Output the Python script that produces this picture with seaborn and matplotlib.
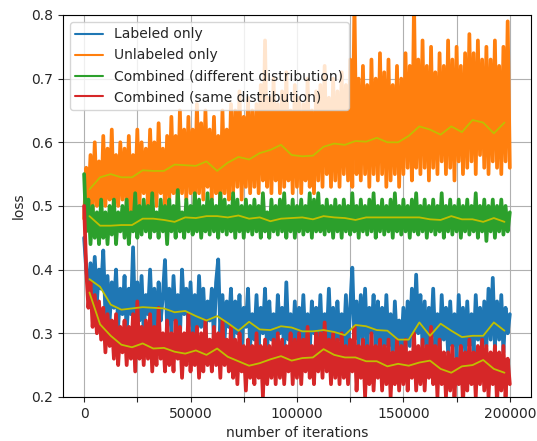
import numpy as np
import matplotlib
matplotlib.use("Agg")
import matplotlib.pyplot as plt
from matplotlib.ticker import MultipleLocator
import seaborn as sns

################################################################################################
# data (raw loss every 1000 iterations, smoothed every 5000)

iters = np.arange(0, 200001, 1000)
smooth_iters = np.arange(2500, 200000, 5000)

labeled_only = [
    0.45, 0.40, 0.37, 0.41, 0.36, 0.42, 0.35, 0.40, 0.37, 0.43,
    0.33, 0.39, 0.32, 0.38, 0.34, 0.40, 0.31, 0.37, 0.33, 0.39,
    0.30, 0.37, 0.33, 0.435, 0.31, 0.38, 0.32, 0.39, 0.30, 0.36,
    0.33, 0.40, 0.31, 0.37, 0.30, 0.38, 0.32, 0.36, 0.415, 0.31,
    0.37, 0.30, 0.39, 0.32, 0.36, 0.29, 0.40, 0.33, 0.37, 0.31,
    0.38, 0.30, 0.36, 0.29, 0.39, 0.31, 0.37, 0.30, 0.35, 0.32,
    0.37, 0.29, 0.38, 0.416, 0.30, 0.36, 0.29, 0.35, 0.31, 0.37,
    0.28, 0.35, 0.30, 0.36, 0.27, 0.34, 0.31, 0.37, 0.28, 0.33,
    0.29, 0.36, 0.28, 0.34, 0.30, 0.37, 0.27, 0.35, 0.29, 0.33,
    0.28, 0.36, 0.30, 0.34, 0.27, 0.38, 0.29, 0.33, 0.28, 0.35,
    0.27, 0.34, 0.29, 0.36, 0.28, 0.33, 0.27, 0.35, 0.30, 0.34,
    0.28, 0.36, 0.27, 0.33, 0.29, 0.37, 0.28, 0.34, 0.27, 0.35,
    0.29, 0.33, 0.28, 0.36, 0.27, 0.34, 0.403, 0.29, 0.35, 0.28,
    0.36, 0.29, 0.37, 0.28, 0.34, 0.30, 0.36, 0.27, 0.35, 0.29,
    0.34, 0.27, 0.36, 0.28, 0.33, 0.26, 0.35, 0.28, 0.32, 0.27,
    0.34, 0.27, 0.35, 0.28, 0.37, 0.29, 0.392, 0.30, 0.36, 0.28,
    0.35, 0.27, 0.34, 0.29, 0.37, 0.28, 0.33, 0.27, 0.36, 0.29,
    0.34, 0.27, 0.35, 0.28, 0.33, 0.26, 0.36, 0.28, 0.34, 0.27,
    0.35, 0.28, 0.33, 0.27, 0.36, 0.29, 0.34, 0.27, 0.35, 0.28,
    0.37, 0.29, 0.387, 0.28, 0.35, 0.29, 0.36, 0.27, 0.34, 0.30,
    0.33,
]

unlabeled_only = [
    0.48, 0.56, 0.50, 0.58, 0.49, 0.60, 0.50, 0.57, 0.49, 0.61,
    0.50, 0.59, 0.51, 0.62, 0.49, 0.58, 0.50, 0.60, 0.51, 0.59,
    0.50, 0.61, 0.49, 0.58, 0.51, 0.62, 0.50, 0.60, 0.52, 0.59,
    0.50, 0.62, 0.51, 0.60, 0.50, 0.63, 0.52, 0.59, 0.50, 0.61,
    0.51, 0.64, 0.52, 0.61, 0.50, 0.65, 0.52, 0.62, 0.51, 0.64,
    0.52, 0.62, 0.50, 0.66, 0.52, 0.63, 0.51, 0.65, 0.53, 0.62,
    0.51, 0.64, 0.52, 0.61, 0.50, 0.65, 0.52, 0.62, 0.51, 0.66,
    0.52, 0.65, 0.53, 0.68, 0.51, 0.64, 0.53, 0.67, 0.52, 0.65,
    0.53, 0.66, 0.52, 0.69, 0.54, 0.76, 0.53, 0.67, 0.52, 0.70,
    0.54, 0.66, 0.52, 0.68, 0.53, 0.71, 0.54, 0.65, 0.52, 0.69,
    0.53, 0.67, 0.52, 0.66, 0.54, 0.70, 0.53, 0.65, 0.52, 0.68,
    0.54, 0.69, 0.53, 0.72, 0.55, 0.67, 0.53, 0.70, 0.54, 0.68,
    0.53, 0.71, 0.55, 0.69, 0.54, 0.73, 0.53, 0.82, 0.55, 0.70,
    0.54, 0.72, 0.55, 0.69, 0.53, 0.73, 0.55, 0.70, 0.54, 0.74,
    0.55, 0.71, 0.53, 0.73, 0.54, 0.69, 0.55, 0.72, 0.53, 0.70,
    0.55, 0.74, 0.56, 0.72, 0.54, 0.82, 0.56, 0.73, 0.55, 0.76,
    0.56, 0.72, 0.54, 0.75, 0.56, 0.71, 0.55, 0.74, 0.57, 0.72,
    0.55, 0.76, 0.56, 0.73, 0.54, 0.75, 0.57, 0.72, 0.55, 0.74,
    0.56, 0.77, 0.57, 0.74, 0.55, 0.76, 0.58, 0.73, 0.56, 0.75,
    0.55, 0.73, 0.57, 0.76, 0.56, 0.72, 0.55, 0.75, 0.57, 0.79,
    0.56,
]

combined_diff = [
    0.55, 0.46, 0.51, 0.44, 0.50, 0.45, 0.49, 0.44, 0.51, 0.45,
    0.49, 0.44, 0.50, 0.455, 0.51, 0.44, 0.49, 0.46, 0.50, 0.45,
    0.51, 0.44, 0.49, 0.46, 0.52, 0.45, 0.50, 0.455, 0.51, 0.46,
    0.50, 0.45, 0.52, 0.46, 0.49, 0.45, 0.51, 0.46, 0.50, 0.44,
    0.51, 0.46, 0.50, 0.45, 0.525, 0.46, 0.49, 0.45, 0.51, 0.46,
    0.50, 0.455, 0.52, 0.46, 0.51, 0.45, 0.50, 0.46, 0.52, 0.455,
    0.51, 0.46, 0.50, 0.45, 0.52, 0.46, 0.51, 0.455, 0.50, 0.46,
    0.52, 0.45, 0.51, 0.46, 0.50, 0.45, 0.51, 0.46, 0.50, 0.455,
    0.51, 0.46, 0.50, 0.45, 0.52, 0.46, 0.49, 0.45, 0.51, 0.46,
    0.50, 0.455, 0.51, 0.46, 0.52, 0.45, 0.50, 0.46, 0.51, 0.45,
    0.50, 0.46, 0.51, 0.455, 0.50, 0.46, 0.52, 0.45, 0.51, 0.46,
    0.52, 0.46, 0.50, 0.455, 0.51, 0.46, 0.50, 0.45, 0.51, 0.46,
    0.50, 0.45, 0.51, 0.46, 0.50, 0.455, 0.52, 0.46, 0.50, 0.45,
    0.51, 0.46, 0.50, 0.455, 0.51, 0.46, 0.52, 0.45, 0.50, 0.46,
    0.51, 0.455, 0.50, 0.46, 0.51, 0.45, 0.52, 0.46, 0.50, 0.455,
    0.51, 0.46, 0.50, 0.45, 0.51, 0.46, 0.52, 0.455, 0.50, 0.46,
    0.51, 0.45, 0.50, 0.46, 0.51, 0.455, 0.50, 0.46, 0.52, 0.45,
    0.50, 0.46, 0.51, 0.455, 0.50, 0.46, 0.51, 0.45, 0.50, 0.46,
    0.51, 0.455, 0.50, 0.46, 0.52, 0.45, 0.50, 0.46, 0.51, 0.445,
    0.50, 0.46, 0.51, 0.45, 0.50, 0.46, 0.51, 0.455, 0.50, 0.46,
    0.49,
]

combined_same = [
    0.50, 0.40, 0.34, 0.38, 0.31, 0.36, 0.30, 0.35, 0.29, 0.34,
    0.27, 0.33, 0.28, 0.32, 0.26, 0.33, 0.25, 0.31, 0.27, 0.32,
    0.25, 0.31, 0.26, 0.33, 0.24, 0.35, 0.26, 0.31, 0.25, 0.32,
    0.26, 0.33, 0.24, 0.31, 0.25, 0.34, 0.26, 0.30, 0.24, 0.32,
    0.25, 0.30, 0.24, 0.32, 0.26, 0.31, 0.23, 0.30, 0.25, 0.33,
    0.24, 0.30, 0.25, 0.31, 0.23, 0.30, 0.24, 0.32, 0.25, 0.29,
    0.24, 0.31, 0.25, 0.30, 0.23, 0.32, 0.25, 0.29, 0.24, 0.31,
    0.23, 0.29, 0.22, 0.30, 0.24, 0.28, 0.21, 0.29, 0.23, 0.28,
    0.22, 0.30, 0.23, 0.28, 0.20, 0.29, 0.22, 0.28, 0.23, 0.29,
    0.22, 0.30, 0.23, 0.29, 0.22, 0.28, 0.24, 0.30, 0.22, 0.29,
    0.23, 0.30, 0.22, 0.29, 0.24, 0.31, 0.23, 0.28, 0.22, 0.30,
    0.24, 0.30, 0.23, 0.317, 0.24, 0.29, 0.22, 0.30, 0.23, 0.29,
    0.22, 0.30, 0.23, 0.28, 0.22, 0.29, 0.24, 0.31, 0.21, 0.28,
    0.23, 0.29, 0.20, 0.28, 0.22, 0.30, 0.21, 0.28, 0.23, 0.29,
    0.21, 0.28, 0.22, 0.29, 0.20, 0.27, 0.22, 0.29, 0.21, 0.28,
    0.22, 0.29, 0.21, 0.27, 0.23, 0.30, 0.21, 0.28, 0.22, 0.29,
    0.21, 0.28, 0.23, 0.31, 0.22, 0.28, 0.20, 0.29, 0.22, 0.27,
    0.20, 0.27, 0.21, 0.28, 0.20, 0.26, 0.22, 0.28, 0.19, 0.27,
    0.21, 0.29, 0.22, 0.27, 0.20, 0.28, 0.22, 0.29, 0.21, 0.28,
    0.20, 0.27, 0.22, 0.28, 0.19, 0.27, 0.21, 0.28, 0.20, 0.26,
    0.22,
]

# smoothed curves (yellow)
labeled_smooth = [
    0.385, 0.373, 0.345, 0.337, 0.339, 0.341, 0.340, 0.339, 0.333, 0.335,
    0.327, 0.320, 0.327, 0.316, 0.304, 0.318, 0.306, 0.305, 0.311, 0.309,
    0.303, 0.303, 0.305, 0.302, 0.297, 0.313, 0.311, 0.305, 0.304, 0.290,
    0.290, 0.317, 0.296, 0.315, 0.304, 0.294, 0.296, 0.296, 0.317, 0.304,
]
unlabeled_smooth = [
    0.526, 0.545, 0.550, 0.545, 0.545, 0.556, 0.555, 0.555, 0.565, 0.564,
    0.563, 0.570, 0.555, 0.568, 0.577, 0.573, 0.583, 0.588, 0.596, 0.580,
    0.578, 0.579, 0.593, 0.598, 0.596, 0.602, 0.601, 0.607, 0.600, 0.600,
    0.610, 0.625, 0.620, 0.612, 0.625, 0.616, 0.635, 0.631, 0.614, 0.631,
]
combined_diff_smooth = [
    0.484, 0.469, 0.469, 0.470, 0.470, 0.480, 0.480, 0.478, 0.475, 0.482,
    0.481, 0.484, 0.484, 0.482, 0.485, 0.480, 0.482, 0.476, 0.480, 0.481,
    0.482, 0.479, 0.484, 0.482, 0.481, 0.478, 0.482, 0.482, 0.482, 0.482,
    0.482, 0.482, 0.479, 0.478, 0.484, 0.479, 0.479, 0.475, 0.481, 0.475,
]
combined_same_smooth = [
    0.364, 0.314, 0.296, 0.282, 0.278, 0.284, 0.276, 0.277, 0.271, 0.268,
    0.273, 0.266, 0.276, 0.263, 0.256, 0.249, 0.253, 0.259, 0.264, 0.257,
    0.261, 0.262, 0.275, 0.266, 0.262, 0.262, 0.256, 0.256, 0.248, 0.252,
    0.249, 0.254, 0.257, 0.244, 0.238, 0.248, 0.250, 0.258, 0.244, 0.238,
]

labels = ['Labeled only', 'Unlabeled only',
          'Combined (different distribution)', 'Combined (same distribution)']
colors = ['tab:blue', 'tab:orange', 'tab:green', 'tab:red']

################################################################################################

sns.set_style("ticks", {"axes.grid": True, "grid.color": "#b0b0b0",
                        "axes.edgecolor": "black"})
plt.rcParams['font.family'] = ['DejaVu Sans']

fig, ax = plt.subplots(figsize=(5.37, 4.41), dpi=100)
fig.subplots_adjust(left=0.117, right=0.989, top=0.966, bottom=0.1)

raw = [labeled_only, unlabeled_only, combined_diff, combined_same]
smooth = [labeled_smooth, unlabeled_smooth, combined_diff_smooth, combined_same_smooth]

# noisy curves first (thick line so the dense noise reads as a band)
for y, lab, c in zip(raw, labels, colors):
    sns.lineplot(x=iters, y=y, ax=ax, color=c, lw=2.7, label=lab, estimator=None)

# smoothed curves on top
for y in smooth:
    sns.lineplot(x=smooth_iters, y=y, ax=ax, color='y', lw=1.3, estimator=None, legend=False)

ax.set_xlim(-10000, 210000)
ax.set_ylim(0.2, 0.8)
ax.xaxis.set_major_locator(MultipleLocator(50000))
ax.xaxis.set_minor_locator(MultipleLocator(25000))
ax.yaxis.set_major_locator(MultipleLocator(0.1))
ax.tick_params(which='both', direction='out', length=3.5, width=0.8)
ax.grid(True, which='both', color='#b0b0b0', lw=0.8)
ax.set_axisbelow(True)

ax.set_xlabel('number of iterations')
ax.set_ylabel('loss')
leg = ax.legend(loc='upper left', fontsize=10)
for h in leg.legend_handles:
    h.set_linewidth(1.5)

fig.savefig('out.png', dpi=100)
